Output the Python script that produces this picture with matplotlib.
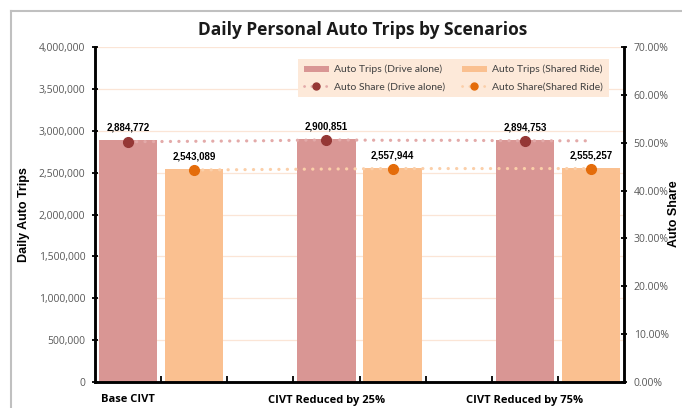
import matplotlib
matplotlib.use("Agg")
import matplotlib.pyplot as plt
import numpy as np
from matplotlib.lines import Line2D
from matplotlib.patches import Patch
from matplotlib.ticker import FuncFormatter, MultipleLocator

# ---- data ----
scenarios = ["Base CIVT", "CIVT Reduced by 25%", "CIVT Reduced by 75%"]
trips_drive_alone = [2884772, 2900851, 2894753]
trips_shared_ride = [2543089, 2557944, 2555257]
# auto share, read across the 8 category slots (NaN = no point)
share_drive_alone = [50.2, 50.3, 50.4, 50.6, 50.5, 50.5, 50.4, 50.4]
share_shared_ride = [np.nan, 44.3, 44.4, 44.5, 44.6, 44.6, 44.6, 44.6]

drive_slots = [0, 3, 6]
shared_slots = [1, 4, 7]
n_slots = 8

c_drive = "#d99694"
c_shared = "#fac090"
c_drive_mk = "#953735"
c_shared_mk = "#e46c0a"
c_drive_ln = "#e3aaa9"
c_shared_ln = "#fbcfa9"
grid_c = "#fbe5d6"
dot = (0, (0.05, 2.6))

fig = plt.figure(figsize=(6.82, 4.08), dpi=100)
ax = fig.add_axes([95/682, 1-382/408, (624-95)/682, (382-47)/408])
ax2 = ax.twinx()

bw = 0.88
ax.bar(drive_slots, trips_drive_alone, width=bw, color=c_drive, zorder=2)
ax.bar(shared_slots, trips_shared_ride, width=bw, color=c_shared, zorder=2)
for x, v in zip(drive_slots + shared_slots, trips_drive_alone + trips_shared_ride):
    ax.text(x, v + 90000, f"{v:,}", ha="center", va="bottom", fontsize=7,
            fontweight="bold", family="Liberation Sans", color="black", zorder=5)

ax.set_ylim(0, 4000000)
ax.set_xlim(-0.5, n_slots - 0.5)
ax.yaxis.set_major_locator(MultipleLocator(500000))
ax.yaxis.set_major_formatter(FuncFormatter(lambda v, p: f"{int(v):,}"))
ax.grid(axis="y", color=grid_c, linewidth=0.9, zorder=0)
ax.set_axisbelow(True)

ax.set_xticks(drive_slots)
ax.set_xticklabels(scenarios, fontsize=8, fontweight="bold", family="Open Sans")
ax.set_xticks(np.arange(0.5, n_slots - 0.5, 1), minor=True)
ax.tick_params(axis="x", which="major", length=0, pad=9)
ax.tick_params(axis="x", which="minor", length=4, width=1.3, direction="in", color="black")
ax.tick_params(axis="y", length=4, width=1.3, direction="inout", labelsize=7.5,
               labelcolor="#595959", pad=5)
for lbl in ax.get_yticklabels():
    lbl.set_family("Open Sans")

xs = np.arange(n_slots)
ax2.plot(xs, share_drive_alone, color=c_drive_ln, linewidth=2.3, linestyle=dot,
         dash_capstyle="round", zorder=3)
ax2.plot(xs, share_shared_ride, color=c_shared_ln, linewidth=2.3, linestyle=dot,
         dash_capstyle="round", zorder=3)
ax2.plot(drive_slots, [share_drive_alone[i] for i in drive_slots], linestyle="none",
         marker="o", markersize=7, color=c_drive_mk, zorder=4)
ax2.plot(shared_slots, [share_shared_ride[i] for i in shared_slots], linestyle="none",
         marker="o", markersize=7, color=c_shared_mk, zorder=4)
ax2.set_ylim(0, 70)
ax2.yaxis.set_major_locator(MultipleLocator(10))
ax2.yaxis.set_major_formatter(FuncFormatter(lambda v, p: f"{v:.2f}%"))
ax2.tick_params(axis="y", length=4, width=1.3, direction="inout", labelsize=7.5,
                labelcolor="#595959", pad=5)
for lbl in ax2.get_yticklabels():
    lbl.set_family("Open Sans")

for a in (ax, ax2):
    a.spines["top"].set_visible(False)
    for s in ("left", "right", "bottom"):
        a.spines[s].set_linewidth(1.8)
        a.spines[s].set_color("black")

ax.set_ylabel("Daily Auto Trips", fontsize=9, fontweight="bold", family="Liberation Sans",
              labelpad=6)
fig.text(674/682, 1-214/408, "Auto Share", rotation=90, ha="center", va="center",
         fontsize=9, fontweight="bold", family="Liberation Sans")

handles = [
    Patch(facecolor=c_drive, label="Auto Trips (Drive alone)"),
    Patch(facecolor=c_shared, label="Auto Trips (Shared Ride)"),
    Line2D([], [], color=c_drive_ln, linewidth=2, linestyle=dot,
           dash_capstyle="round", marker="o", markersize=5, markerfacecolor=c_drive_mk,
           markeredgecolor=c_drive_mk, label="Auto Share (Drive alone)"),
    Line2D([], [], color=c_shared_ln, linewidth=2, linestyle=dot,
           dash_capstyle="round", marker="o", markersize=5, markerfacecolor=c_shared_mk,
           markeredgecolor=c_shared_mk, label="Auto Share(Shared Ride)"),
]
leg = ax2.legend(handles=[handles[0], handles[2], handles[1], handles[3]], ncol=2,
                 loc="upper left", bbox_to_anchor=((298-95)/529, (382-59)/335),
                 frameon=True, fancybox=False, handlelength=2.4,
                 handleheight=0.5, handletextpad=0.5, columnspacing=1.6, borderpad=0.55,
                 labelspacing=0.75, borderaxespad=0,
                 prop={"family": "Lato", "size": 7.5})
leg.get_frame().set_facecolor("#fde9d9")
leg.get_frame().set_edgecolor("none")
leg.get_frame().set_alpha(1)
leg.set_zorder(10)
for t in leg.get_texts():
    t.set_color("#404040")

fig.text(363/682, 1-30/408, "Daily Personal Auto Trips by Scenarios", ha="center",
         va="center", fontsize=12.5, fontweight="bold", family="Open Sans", color="#1a1a1a")

# chart frame (top and left visible)
fig.add_artist(Line2D([11/682, 11/682], [0, 1-11/408], transform=fig.transFigure,
                      color="#c0c0c0", linewidth=1.5))
fig.add_artist(Line2D([11/682, 1], [1-11/408, 1-11/408], transform=fig.transFigure,
                      color="#c0c0c0", linewidth=1.5))

fig.savefig("out.png", dpi=100)
